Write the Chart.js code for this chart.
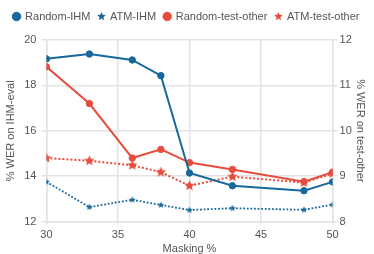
<!DOCTYPE html>
<html>
<head>
<meta charset="utf-8">
<script src="https://cdn.jsdelivr.net/npm/chart.js@4"></script>
<style>
  html, body { margin: 0; padding: 0; background: #fff; }
  #wrap { width: 374px; height: 254px; }
</style>
</head>
<body>
<div id="wrap"><canvas id="werChart"></canvas></div>
<script>
const masking = [30, 33, 36, 38, 40, 43, 48, 50];
const randomIHM = [19.17, 19.38, 19.12, 18.43, 14.14, 13.58, 13.36, 13.75];
const atmIHM = [13.75, 12.64, 12.96, 12.73, 12.51, 12.59, 12.52, 12.75];
const randomTestOther = [11.41, 10.60, 9.40, 9.59, 9.30, 9.15, 8.88, 9.09];
const atmTestOther = [9.40, 9.34, 9.24, 9.09, 8.79, 8.99, 8.86, 9.06];

const blue = '#17689b';
const red = '#e74c3c';

function pts(ys) {
  return masking.map((x, i) => ({ x: x, y: ys[i] }));
}

// filled five-point star used as a point style
function starImage(color, r) {
  const size = Math.ceil(r * 2 + 2);
  const c = document.createElement('canvas');
  c.width = size;
  c.height = size;
  const g = c.getContext('2d');
  const cx = size / 2, cy = size / 2;
  g.beginPath();
  for (let i = 0; i < 10; i++) {
    const rad = i % 2 === 0 ? r : r * 0.45;
    const a = -Math.PI / 2 + i * Math.PI / 5;
    const px = cx + rad * Math.cos(a);
    const py = cy + rad * Math.sin(a);
    if (i === 0) g.moveTo(px, py); else g.lineTo(px, py);
  }
  g.closePath();
  g.fillStyle = color;
  g.fill();
  return c;
}

const blueStar = starImage(blue, 3.6);
const redStar = starImage(red, 5.5);
const blueStarLegend = starImage(blue, 4.5);
const redStarLegend = starImage(red, 4.5);

// a bit more room under the legend
const legendGap = {
  id: 'legendGap',
  beforeInit(chart) {
    const fit = chart.legend.fit;
    chart.legend.fit = function () {
      fit.bind(chart.legend)();
      this.height += 8;
    };
  }
};

Chart.defaults.font.family = '"Liberation Sans", Arial, sans-serif';
Chart.defaults.font.size = 11;
Chart.defaults.color = '#555';

const ctx = document.getElementById('werChart').getContext('2d');

new Chart(ctx, {
  type: 'line',
  plugins: [legendGap],
  data: {
    datasets: [
      {
        label: 'Random-IHM',
        data: pts(randomIHM),
        yAxisID: 'y',
        borderColor: blue,
        backgroundColor: blue,
        borderWidth: 2,
        pointStyle: 'circle',
        pointRadius: 3.2,
        pointBorderWidth: 1
      },
      {
        label: 'ATM-IHM',
        data: pts(atmIHM),
        yAxisID: 'y',
        borderColor: blue,
        backgroundColor: blue,
        borderWidth: 1.8,
        borderDash: [1.8, 1.8],
        pointStyle: blueStar,
        pointRadius: 3
      },
      {
        label: 'Random-test-other',
        data: pts(randomTestOther),
        yAxisID: 'y1',
        borderColor: red,
        backgroundColor: red,
        borderWidth: 2,
        pointStyle: 'circle',
        pointRadius: 3.2,
        pointBorderWidth: 1
      },
      {
        label: 'ATM-test-other',
        data: pts(atmTestOther),
        yAxisID: 'y1',
        borderColor: red,
        backgroundColor: red,
        borderWidth: 2,
        borderDash: [2, 2],
        pointStyle: redStar,
        pointRadius: 5
      }
    ]
  },
  options: {
    responsive: true,
    maintainAspectRatio: false,
    animation: false,
    layout: { padding: { left: 4, right: 5, top: 3, bottom: -2 } },
    plugins: {
      legend: {
        display: true,
        labels: {
          usePointStyle: true,
          boxWidth: 6,
          boxHeight: 6,
          padding: 8,
          color: '#555',
          generateLabels(chart) {
            const items = Chart.defaults.plugins.legend.labels.generateLabels(chart);
            items[1].pointStyle = blueStarLegend;
            items[3].pointStyle = redStarLegend;
            return items;
          }
        }
      },
      tooltip: { enabled: false }
    },
    scales: {
      x: {
        type: 'linear',
        min: 30,
        max: 50,
        ticks: { stepSize: 5, padding: 4 },
        grid: { color: '#e3e3e3', lineWidth: 1.5, tickLength: 3 },
        border: { color: '#e3e3e3', width: 1.5 },
        title: { display: true, text: 'Masking %', padding: { top: -3, bottom: 0 } }
      },
      y: {
        position: 'left',
        min: 12,
        max: 20,
        ticks: { stepSize: 2, padding: 5 },
        grid: { color: '#e3e3e3', lineWidth: 1.5, tickLength: 5 },
        border: { color: '#e3e3e3', width: 1.5 },
        title: { display: true, text: '% WER on IHM-eval', padding: { top: 0, bottom: 2 } }
      },
      y1: {
        position: 'right',
        min: 8,
        max: 12,
        ticks: { stepSize: 1, padding: 2 },
        grid: { drawOnChartArea: false, color: '#e3e3e3', lineWidth: 1.5, tickLength: 5 },
        border: { color: '#e3e3e3', width: 1.5 },
        title: { display: true, text: '% WER on test-other', padding: { top: 2, bottom: 0 } }
      }
    }
  }
});
</script>
</body>
</html>
